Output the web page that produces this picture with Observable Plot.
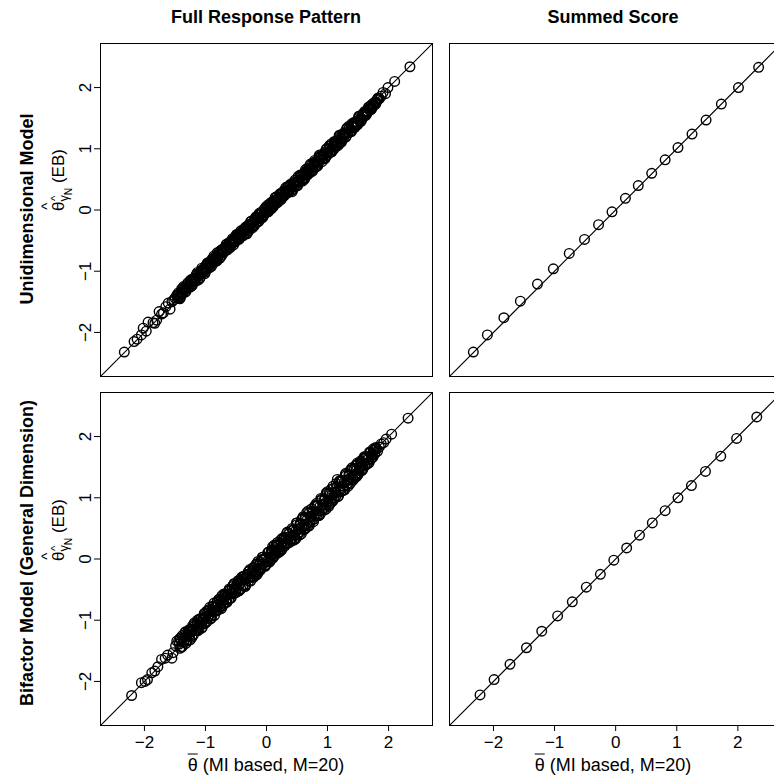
<!DOCTYPE html>
<html><head><meta charset="utf-8">
<script src="https://cdn.jsdelivr.net/npm/d3@7"></script>
<script src="https://cdn.jsdelivr.net/npm/@observablehq/plot@0.6"></script>
<style>
body{margin:0;background:#fff;overflow:hidden;}
#root{position:relative;width:774px;height:777px;font-family:"Liberation Sans",Arial,sans-serif;color:#000;}
.pl{position:absolute;}
.coltitle{position:absolute;font-weight:bold;font-size:18px;transform:translate(-50%,-50%);white-space:nowrap;}
.rowtitle{position:absolute;font-weight:bold;font-size:18px;transform:translate(-50%,-50%) rotate(-90deg);white-space:nowrap;}
.ylab{position:absolute;font-size:17px;transform:translate(-50%,-50%) rotate(-90deg);white-space:nowrap;line-height:1;}
.xlab{position:absolute;font-size:18px;transform:translate(-50%,-50%);white-space:nowrap;}
.hat{position:relative;display:inline-block;}
.hat::before{content:"^";position:absolute;left:50%;transform:translateX(-50%);top:-0.72em;font-size:0.9em;}
.bar{text-decoration:overline;}
sub{font-size:0.75em;vertical-align:-0.3em;}
sub sub{font-size:0.8em;}
</style>
</head><body>
<div id="root"></div>
<script>
// ---- text ----
const colTitles = ["Full Response Pattern", "Summed Score"];
const rowTitles = ["Unidimensional Model", "Bifactor Model (General Dimension)"];
const xTicks = [-2, -1, 0, 1, 2];
const yTicks = [-2, -1, 0, 1, 2];

// ---- data: [theta-bar (MI based), theta-hat (EB)] ----
const uniFull = [
[-2.33,-2.32],[-2.17,-2.15],[-2.12,-2.11],[-2.05,-2.04],[-2.02,-1.93],[-1.97,-1.98],[-1.94,-1.83],[-1.86,-1.84],[-1.83,-1.85],[-1.80,-1.80],[-1.76,-1.66],[-1.72,-1.70],[-1.69,-1.68],[-1.65,-1.58],[-1.61,-1.52],[-1.58,-1.62],[-1.55,-1.50],[-1.52,-1.47],[-1.50,-1.44],
[-1.47,-1.39],[-1.45,-1.44],[-1.43,-1.38],[-1.41,-1.43],[-1.39,-1.29],[-1.37,-1.34],[-1.35,-1.29],[-1.33,-1.34],[-1.31,-1.27],[-1.29,-1.22],
[-1.27,-1.25],[-1.25,-1.16],[-1.23,-1.18],[-1.21,-1.21],[-1.19,-1.13],[-1.17,-1.14],[-1.15,-1.05],[-1.13,-1.15],[-1.11,-1.04],[-1.09,-1.05],
[-1.07,-0.99],[-1.05,-1.04],[-1.03,-0.98],[-1.01,-1.04],[-0.99,-0.90],[-0.97,-0.95],[-0.95,-0.89],[-0.93,-0.93],[-0.91,-0.87],[-0.89,-0.82],
[-0.87,-0.86],[-0.85,-0.77],[-0.83,-0.80],[-0.81,-0.83],[-0.79,-0.73],[-0.77,-0.73],[-0.75,-0.66],[-0.73,-0.74],[-0.71,-0.66],[-0.69,-0.67],
[-0.67,-0.60],[-0.65,-0.65],[-0.63,-0.59],[-0.61,-0.53],[-0.59,-0.61],[-0.57,-0.52],[-0.55,-0.53],[-0.53,-0.47],[-0.51,-0.52],[-0.49,-0.45],
[-0.47,-0.40],[-0.45,-0.44],[-0.43,-0.38],[-0.41,-0.43],
[-0.39,-0.35],[-0.37,-0.40],[-0.35,-0.29],[-0.33,-0.38],[-0.31,-0.30],[-0.29,-0.24],[-0.27,-0.29],[-0.25,-0.22],[-0.23,-0.29],[-0.21,-0.19],
[-0.19,-0.14],[-0.17,-0.21],[-0.15,-0.12],[-0.13,-0.14],[-0.11,-0.05],[-0.09,-0.14],[-0.07,-0.05],[-0.05,-0.08],[-0.03,0.01],[-0.01,-0.03],
[0.01,0.04],[0.03,-0.02],[0.05,0.06],[0.07,0.04],[0.09,0.13],[0.11,0.05],[0.13,0.15],[0.15,0.11],[0.17,0.22],[0.19,0.18],
[0.21,0.16],[0.23,0.26],[0.25,0.22],[0.27,0.29],[0.29,0.23],[0.31,0.31],[0.33,0.29],[0.35,0.38],[0.37,0.32],[0.39,0.40],
[0.41,0.32],[0.43,0.42],[0.45,0.39],[0.47,0.49],[0.49,0.39],[0.51,0.47],[0.53,0.46],[0.55,0.55],[0.57,0.54],[0.59,0.51],
[0.61,0.59],[0.63,0.53],[0.65,0.60],[0.67,0.68],[0.69,0.62],[0.71,0.68],[0.73,0.64],[0.75,0.74],[0.77,0.71],[0.79,0.81],
[0.81,0.70],[0.83,0.79],[0.85,0.78],[0.87,0.87],[0.89,0.86],[0.91,0.83],[0.93,0.91],[0.95,0.85],[0.97,0.92],[0.99,1.00],
[1.01,0.94],[1.03,1.00],[1.05,0.94],[1.07,1.06],[1.09,1.03],[1.11,1.12],[1.13,1.04],[1.15,1.11],[1.17,1.10],[1.19,1.19],
[1.21,1.18],[1.23,1.13],[1.25,1.23],[1.27,1.19],[1.29,1.24],[1.31,1.32],[1.33,1.26],[1.35,1.32],[1.37,1.28],[1.39,1.38],
[1.41,1.35],[1.43,1.43],[1.45,1.35],[1.47,1.43],[1.49,1.42],[1.51,1.50],[1.53,1.48],[1.55,1.47],[1.57,1.55],[1.59,1.53],
[1.61,1.61],[1.63,1.59],[1.65,1.58],[1.67,1.65],[1.69,1.64],[1.71,1.71],[1.73,1.67],[1.75,1.72],[1.77,1.76],[1.79,1.75],
[1.81,1.79],[1.83,1.83],[1.85,1.82],
[1.88,1.86],[1.91,1.92],[1.95,1.90],[1.99,2.00],[2.10,2.10],[2.35,2.34]
];
const uniFullMore = [
[-1.46,-1.43],[-1.44,-1.35],[-1.42,-1.45],[-1.40,-1.34],[-1.38,-1.37],[-1.36,-1.25],[-1.34,-1.30],[-1.32,-1.33],[-1.30,-1.23],[-1.28,-1.26],
[-1.26,-1.21],[-1.24,-1.14],[-1.22,-1.24],[-1.20,-1.12],[-1.18,-1.17],[-1.16,-1.11],[-1.14,-1.05],[-1.12,-1.09],[-1.10,-1.13],[-1.08,-1.02],
[-1.06,-0.95],[-1.04,-1.02],[-1.02,-0.95],[-1.00,-1.01],[-0.98,-0.94],[-0.96,-0.86],[-0.94,-0.91],[-0.92,-0.84],[-0.90,-0.92],[-0.88,-0.83],
[-0.86,-0.75],[-0.84,-0.83],[-0.82,-0.76],[-0.80,-0.78],[-0.78,-0.69],[-0.76,-0.78],[-0.74,-0.70],[-0.72,-0.64],[-0.70,-0.69],[-0.68,-0.62],
[-0.66,-0.56],[-0.64,-0.65],[-0.62,-0.59],[-0.60,-0.53],[-0.58,-0.56],[-0.56,-0.47],[-0.54,-0.57],[-0.52,-0.48],[-0.50,-0.42],[-0.48,-0.47],
[-0.46,-0.41],[-0.44,-0.46],[-0.42,-0.34],[-0.40,-0.37],
[-0.38,-0.42],[-0.36,-0.31],[-0.34,-0.34],[-0.32,-0.39],[-0.30,-0.26],[-0.28,-0.29],[-0.26,-0.19],[-0.24,-0.27],[-0.22,-0.20],[-0.20,-0.26],
[-0.18,-0.14],[-0.16,-0.15],[-0.14,-0.19],[-0.12,-0.06],[-0.10,-0.12],[-0.08,-0.05],[-0.06,-0.12],[-0.04,0.01],[-0.02,-0.02],[0.00,-0.04],
[0.02,0.08],[0.04,0.02],[0.06,0.09],[0.08,0.02],[0.10,0.12],[0.12,0.09],[0.14,0.20],[0.16,0.11],[0.18,0.19],[0.20,0.18],
[0.22,0.26],[0.24,0.17],[0.26,0.26],[0.28,0.31],[0.30,0.26],[0.32,0.37],[0.34,0.32],[0.36,0.30],[0.38,0.40],
[0.40,0.35],[0.42,0.30],[0.44,0.45],[0.46,0.38],[0.48,0.45],[0.50,0.40],[0.52,0.55],[0.54,0.48],[0.56,0.55],[0.58,0.49],
[0.60,0.56],[0.62,0.50],[0.64,0.66],[0.66,0.59],[0.68,0.66],[0.70,0.60],[0.72,0.75],[0.74,0.69],[0.76,0.65],[0.78,0.78],
[0.80,0.72],[0.82,0.79],[0.84,0.72],[0.86,0.88],[0.88,0.82],[0.90,0.89],[0.92,0.83],[0.94,0.90],[0.96,0.84],[0.98,1.00],
[1.00,0.93],[1.02,1.00],[1.04,0.94],[1.06,1.08],[1.08,1.03],[1.10,0.99],[1.12,1.11],[1.14,1.06],[1.16,1.13],[1.18,1.06],
[1.20,1.21],[1.22,1.16],[1.24,1.15],[1.26,1.25],[1.28,1.24],[1.30,1.19],[1.32,1.34],[1.34,1.27],[1.36,1.34],[1.38,1.28],
[1.40,1.41],[1.42,1.37],[1.44,1.35],[1.46,1.44],[1.48,1.42],[1.50,1.40],[1.52,1.53],[1.54,1.50],[1.56,1.48],[1.58,1.57],
[1.60,1.55],[1.62,1.54],[1.64,1.62],[1.66,1.61],[1.68,1.68],[1.70,1.66],[1.72,1.65],[1.74,1.73],[1.76,1.71],[1.78,1.76],
[1.80,1.76],[1.82,1.82],[1.84,1.82]
];
const uniFullEdge = [
[-1.45,-1.39],[-1.41,-1.41],[-1.37,-1.28],[-1.33,-1.31],[-1.29,-1.19],[-1.25,-1.26],[-1.21,-1.13],[-1.17,-1.16],[-1.13,-1.02],[-1.09,-1.11],
[-1.05,-0.98],[-1.01,-0.99],[-0.97,-0.87],[-0.93,-0.94],[-0.89,-0.80],[-0.85,-0.85],[-0.81,-0.70],[-0.77,-0.79],[-0.73,-0.65],[-0.69,-0.68],
[-0.65,-0.56],[-0.61,-0.62],[-0.57,-0.50],[-0.53,-0.53],[-0.49,-0.40],[-0.45,-0.48],[-0.41,-0.34],[-0.37,-0.34],[-0.33,-0.27],[-0.29,-0.34],
[-0.25,-0.18],[-0.21,-0.25],[-0.17,-0.11],[-0.13,-0.19],[-0.09,-0.04],[-0.05,-0.10],[-0.01,0.05],[0.03,-0.03],[0.07,0.12],[0.11,0.07],
[0.15,0.21],[0.19,0.13],[0.23,0.27],[0.27,0.22],[0.31,0.35],[0.35,0.28],[0.39,0.42],[0.43,0.33],[0.47,0.45],[0.51,0.40],
[0.55,0.57],[0.59,0.47],[0.63,0.62],[0.67,0.57],[0.71,0.73],[0.75,0.63],[0.79,0.76],[0.83,0.72],[0.87,0.90],[0.91,0.79],
[0.95,0.94],[0.99,0.89],[1.03,1.05],[1.07,0.95],[1.11,1.09],[1.15,1.04],[1.19,1.22],[1.23,1.11],[1.27,1.26],[1.31,1.21],
[1.35,1.37],[1.39,1.28],[1.43,1.41],[1.47,1.38],[1.51,1.53],[1.55,1.45],[1.59,1.58],[1.63,1.55],[1.67,1.68],[1.71,1.64],
[1.75,1.74],[1.79,1.73],[1.83,1.81]
];

const uniSummed = [
[-2.33,-2.32],[-2.10,-2.04],[-1.83,-1.76],[-1.56,-1.49],[-1.28,-1.21],[-1.02,-0.96],[-0.76,-0.71],[-0.51,-0.48],[-0.28,-0.24],[-0.06,-0.03],
[0.16,0.19],[0.37,0.40],[0.59,0.60],[0.81,0.82],[1.02,1.02],[1.25,1.24],[1.48,1.47],[1.73,1.73],[2.01,2.00],[2.34,2.33]
];

const bifFull = [
[-2.21,-2.23],[-2.05,-2.02],[-1.99,-2.00],[-1.95,-1.97],[-1.88,-1.86],[-1.83,-1.83],[-1.78,-1.76],[-1.72,-1.64],[-1.66,-1.62],[-1.62,-1.57],[-1.55,-1.62],[-1.53,-1.53],[-1.49,-1.42],[-1.47,-1.34],
[-1.44,-1.34],[-1.42,-1.46],[-1.40,-1.34],[-1.38,-1.25],[-1.36,-1.36],[-1.34,-1.26],[-1.32,-1.38],[-1.30,-1.26],[-1.28,-1.17],[-1.26,-1.24],
[-1.24,-1.15],[-1.22,-1.25],[-1.20,-1.15],[-1.18,-1.06],[-1.16,-1.17],[-1.14,-1.07],[-1.12,-1.17],[-1.10,-1.07],[-1.08,-0.98],[-1.06,-1.05],
[-1.04,-0.96],[-1.02,-1.06],[-1.00,-0.94],[-0.98,-0.85],[-0.96,-0.96],[-0.94,-0.85],[-0.92,-0.98],[-0.90,-0.86],[-0.88,-0.77],[-0.86,-0.84],
[-0.84,-0.77],[-0.82,-0.85],[-0.80,-0.75],[-0.78,-0.66],[-0.76,-0.78],[-0.74,-0.66],[-0.72,-0.77],[-0.70,-0.67],[-0.68,-0.58],[-0.66,-0.66],
[-0.64,-0.58],[-0.62,-0.66],[-0.60,-0.51],[-0.58,-0.56],[-0.56,-0.45],[-0.54,-0.57],[-0.52,-0.47],[-0.50,-0.49],[-0.48,-0.40],[-0.46,-0.52],
[-0.44,-0.40],[-0.42,-0.35],
[-0.40,-0.33],[-0.38,-0.44],[-0.36,-0.33],[-0.34,-0.43],[-0.32,-0.27],[-0.30,-0.32],[-0.28,-0.19],[-0.26,-0.30],[-0.24,-0.23],[-0.22,-0.29],
[-0.20,-0.14],[-0.18,-0.21],[-0.16,-0.08],[-0.14,-0.22],[-0.12,-0.10],[-0.10,-0.15],[-0.08,-0.01],[-0.06,-0.08],[-0.04,0.00],[-0.02,-0.10],
[0.00,0.03],[0.02,-0.04],[0.04,0.12],[0.06,0.03],[0.08,0.13],[0.10,0.01],[0.12,0.14],[0.14,0.09],[0.16,0.23],[0.18,0.16],
[0.20,0.24],[0.22,0.14],[0.24,0.25],[0.26,0.20],[0.28,0.34],[0.30,0.26],[0.32,0.35],[0.34,0.25],[0.36,0.41],[0.38,0.37],[0.40,0.33],
[0.42,0.30],[0.44,0.47],[0.46,0.39],[0.48,0.33],[0.50,0.56],[0.52,0.49],[0.54,0.44],[0.56,0.57],[0.58,0.53],[0.60,0.69],
[0.62,0.49],[0.64,0.66],[0.66,0.58],[0.68,0.54],[0.70,0.75],[0.72,0.70],[0.74,0.63],[0.76,0.76],[0.78,0.72],[0.80,0.88],
[0.82,0.70],[0.84,0.87],[0.86,0.79],[0.88,0.73],[0.90,0.96],[0.92,0.89],[0.94,0.84],[0.96,0.97],[0.98,0.93],[1.00,1.10],
[1.02,0.89],[1.04,1.06],[1.06,0.98],[1.08,0.94],[1.10,1.15],[1.12,1.10],[1.14,1.03],[1.16,1.30],[1.18,1.12],[1.20,1.28],
[1.22,1.10],[1.24,1.27],[1.26,1.19],[1.28,1.13],[1.30,1.36],[1.32,1.29],[1.34,1.24],[1.36,1.37],[1.38,1.33],[1.40,1.49],
[1.42,1.30],[1.44,1.46],[1.46,1.38],[1.48,1.35],[1.50,1.55],[1.52,1.50],[1.54,1.44],[1.56,1.56],[1.58,1.52],[1.60,1.67],
[1.62,1.53],[1.64,1.66],[1.66,1.62],[1.68,1.57],[1.70,1.74],[1.72,1.70],[1.74,1.67],[1.76,1.78],[1.78,1.74],[1.80,1.80],
[1.75,1.80],[1.82,1.76],[1.85,1.83],[1.88,1.88],[1.92,1.90],[1.96,1.96],[2.05,2.04],[2.32,2.30]
];
const bifFullMore = [
[-1.43,-1.39],[-1.41,-1.29],[-1.39,-1.44],[-1.37,-1.29],[-1.35,-1.34],[-1.33,-1.19],[-1.31,-1.33],[-1.29,-1.23],[-1.27,-1.17],[-1.25,-1.32],
[-1.23,-1.19],[-1.21,-1.09],[-1.19,-1.23],[-1.17,-1.09],[-1.15,-1.13],[-1.13,-1.00],[-1.11,-1.13],[-1.09,-1.03],[-1.07,-0.97],[-1.05,-1.11],
[-1.03,-0.99],[-1.01,-0.89],[-0.99,-1.04],[-0.97,-0.89],[-0.95,-0.94],[-0.93,-0.79],[-0.91,-0.93],[-0.89,-0.83],[-0.87,-0.77],[-0.85,-0.92],
[-0.83,-0.79],[-0.81,-0.70],[-0.79,-0.83],[-0.77,-0.69],[-0.75,-0.73],[-0.73,-0.60],[-0.71,-0.74],[-0.69,-0.63],[-0.67,-0.58],[-0.65,-0.71],
[-0.63,-0.59],[-0.61,-0.49],[-0.59,-0.64],[-0.57,-0.50],[-0.55,-0.54],[-0.53,-0.40],[-0.51,-0.53],[-0.49,-0.43],[-0.47,-0.37],[-0.45,-0.52],
[-0.43,-0.40],[-0.41,-0.30],
[-0.39,-0.44],[-0.37,-0.29],[-0.35,-0.45],[-0.33,-0.31],[-0.31,-0.25],[-0.29,-0.36],[-0.27,-0.17],[-0.25,-0.28],[-0.23,-0.19],[-0.21,-0.30],
[-0.19,-0.24],[-0.17,-0.09],[-0.15,-0.25],[-0.13,-0.11],[-0.11,-0.05],[-0.09,-0.16],[-0.07,0.03],[-0.05,-0.08],[-0.03,0.01],[-0.01,-0.10],
[0.01,-0.04],[0.03,0.11],[0.05,-0.05],[0.07,0.09],[0.09,0.15],[0.11,0.04],[0.13,0.23],[0.15,0.12],[0.17,0.21],[0.19,0.10],
[0.21,0.16],[0.23,0.31],[0.25,0.15],[0.27,0.29],[0.29,0.35],[0.31,0.24],[0.33,0.42],[0.35,0.32],[0.37,0.41],[0.39,0.30],
[0.41,0.33],[0.43,0.48],[0.45,0.31],[0.47,0.45],[0.49,0.59],[0.51,0.40],[0.53,0.48],[0.55,0.58],[0.57,0.41],[0.59,0.66],
[0.61,0.53],[0.63,0.68],[0.65,0.51],[0.67,0.65],[0.69,0.79],[0.71,0.60],[0.73,0.68],[0.75,0.78],[0.77,0.61],[0.79,0.86],
[0.81,0.73],[0.83,0.88],[0.85,0.71],[0.87,0.85],[0.89,0.99],[0.91,0.80],[0.93,0.88],[0.95,0.98],[0.97,0.81],[0.99,1.06],
[1.01,0.93],[1.03,1.08],[1.05,0.91],[1.07,1.05],[1.09,1.19],[1.11,1.00],[1.13,1.08],[1.15,1.18],[1.17,1.02],[1.19,1.26],
[1.21,1.13],[1.23,1.28],[1.25,1.12],[1.27,1.25],[1.29,1.38],[1.31,1.20],[1.33,1.28],[1.35,1.38],[1.37,1.23],[1.39,1.45],
[1.41,1.33],[1.43,1.48],[1.45,1.33],[1.47,1.45],[1.49,1.57],[1.51,1.41],[1.53,1.49],[1.55,1.58],[1.57,1.45],[1.59,1.64],
[1.61,1.54],[1.63,1.67],[1.65,1.55],[1.67,1.66],[1.69,1.75],[1.71,1.63],[1.73,1.70],[1.75,1.77],[1.77,1.71],[1.79,1.82]
];
const bifFullEdge = [
[-1.42,-1.30],[-1.38,-1.43],[-1.34,-1.21],[-1.30,-1.34],[-1.26,-1.15],[-1.22,-1.28],[-1.18,-1.04],[-1.14,-1.17],[-1.10,-0.98],[-1.06,-1.13],
[-1.02,-0.89],[-0.98,-1.02],[-0.94,-0.83],[-0.90,-0.96],[-0.86,-0.72],[-0.82,-0.84],[-0.78,-0.66],[-0.74,-0.81],[-0.70,-0.57],[-0.66,-0.70],
[-0.62,-0.52],[-0.58,-0.64],[-0.54,-0.42],[-0.50,-0.55],[-0.46,-0.35],[-0.42,-0.49],[-0.38,-0.28],[-0.34,-0.42],[-0.30,-0.21],[-0.26,-0.36],
[-0.22,-0.14],[-0.18,-0.27],[-0.14,-0.04],[-0.10,-0.18],[-0.06,0.03],[-0.02,-0.12],[0.02,0.10],[0.06,-0.03],[0.10,0.20],[0.14,0.06],
[0.18,0.27],[0.22,0.12],[0.26,0.34],[0.30,0.21],[0.34,0.44],[0.38,0.27],[0.42,0.50],[0.46,0.33],[0.50,0.59],[0.54,0.39],
[0.58,0.65],[0.62,0.48],[0.66,0.76],[0.70,0.54],[0.74,0.82],[0.78,0.65],[0.82,0.91],[0.86,0.71],[0.90,0.97],[0.94,0.80],
[0.98,1.08],[1.02,0.86],[1.06,1.14],[1.10,0.97],[1.14,1.23],[1.18,1.03],[1.22,1.29],[1.26,1.12],[1.30,1.40],[1.34,1.19],
[1.38,1.46],[1.42,1.29],[1.46,1.53],[1.50,1.38],[1.54,1.60],[1.58,1.47],[1.62,1.67],[1.66,1.57],[1.70,1.74],[1.74,1.66],
[1.78,1.80]
];

const bifSummed = [
[-2.22,-2.22],[-1.99,-1.97],[-1.73,-1.72],[-1.46,-1.45],[-1.21,-1.18],[-0.95,-0.93],[-0.71,-0.70],[-0.48,-0.46],[-0.25,-0.25],[-0.03,-0.02],
[0.18,0.18],[0.39,0.39],[0.60,0.59],[0.81,0.79],[1.02,1.00],[1.24,1.20],[1.47,1.43],[1.72,1.68],[1.98,1.97],[2.31,2.32]
];

const diag = [-3, 3];

// ---- layout ----
const root = document.getElementById("root");
const LO = -2.72, HI = 2.72, HI_R = 2.6;
const fmt = d => (d < 0 ? "\u2212" + (-d) : String(d));

function panel({data, xDomain, wPanel, left, top, mL, mB, showY, showX, full}) {
  const hPanel = 333;
  const mT = 5, mR = full ? 3 : 0;
  const marks = [];
  if (full) marks.push(Plot.frame({stroke: "black", strokeWidth: 1}));
  else {
    marks.push(Plot.ruleX([xDomain[0]], {stroke: "black", strokeWidth: 1}));
    marks.push(Plot.ruleY([LO, HI], {stroke: "black", strokeWidth: 1}));
  }
  marks.push(Plot.line(diag, {x: d => d, y: d => d, stroke: "black", strokeWidth: 1.1, clip: true}));
  marks.push(Plot.dot(data, {x: d => d[0], y: d => d[1], r: 4.8, stroke: "black", strokeWidth: 1.4, fill: "none"}));
  if (showY) marks.push(Plot.axisY({ticks: yTicks, tickSize: 6, tickPadding: 4, tickRotate: -90, tickFormat: fmt, label: null, stroke: "black"}));
  if (showX) marks.push(Plot.axisX({ticks: xTicks, tickSize: 6, tickPadding: 4, tickFormat: fmt, label: null, stroke: "black"}));
  const svg = Plot.plot({
    width: mL + wPanel + mR,
    height: mT + hPanel + mB,
    marginLeft: mL, marginRight: mR, marginTop: mT, marginBottom: mB,
    x: {domain: xDomain, axis: null},
    y: {domain: [LO, HI], axis: null},
    style: {fontFamily: "'Liberation Sans', Arial, sans-serif", fontSize: "17px", color: "black", background: "white", overflow: "visible"},
    marks
  });
  svg.classList.add("pl");
  svg.style.left = left + "px";
  svg.style.top = top + "px";
  root.appendChild(svg);
}

panel({data: uniFull.concat(uniFullMore, uniFullEdge), xDomain: [LO, HI],   wPanel: 332, left: 55,  top: 38,  mL: 45, mB: 3,  showY: true,  showX: false, full: true});
panel({data: uniSummed,                                xDomain: [LO, HI_R], wPanel: 325, left: 447, top: 38,  mL: 2,  mB: 3,  showY: false, showX: false, full: false});
panel({data: bifFull.concat(bifFullMore, bifFullEdge), xDomain: [LO, HI],   wPanel: 332, left: 55,  top: 387, mL: 45, mB: 45, showY: true,  showX: true,  full: true});
panel({data: bifSummed,                                xDomain: [LO, HI_R], wPanel: 325, left: 447, top: 387, mL: 2,  mB: 45, showY: false, showX: true,  full: false});

function addDiv(cls, html, x, y) {
  const d = document.createElement("div");
  d.className = cls; d.innerHTML = html;
  d.style.left = x + "px"; d.style.top = y + "px";
  root.appendChild(d);
}
addDiv("coltitle", colTitles[0], 266, 17);
addDiv("coltitle", colTitles[1], 613, 17);
addDiv("rowtitle", rowTitles[0], 27, 209);
addDiv("rowtitle", rowTitles[1], 27, 553);
const yLabel = '<span class="hat">θ</span><sub><span class="hat">γ</span><sub>N</sub></sub> (EB)';
addDiv("ylab", yLabel, 62, 180);
addDiv("ylab", yLabel, 62, 530);
const xLabel = '<span class="bar">θ</span> (MI based, M=20)';
addDiv("xlab", xLabel, 266, 765);
addDiv("xlab", xLabel, 613, 765);
</script>
</body></html>
